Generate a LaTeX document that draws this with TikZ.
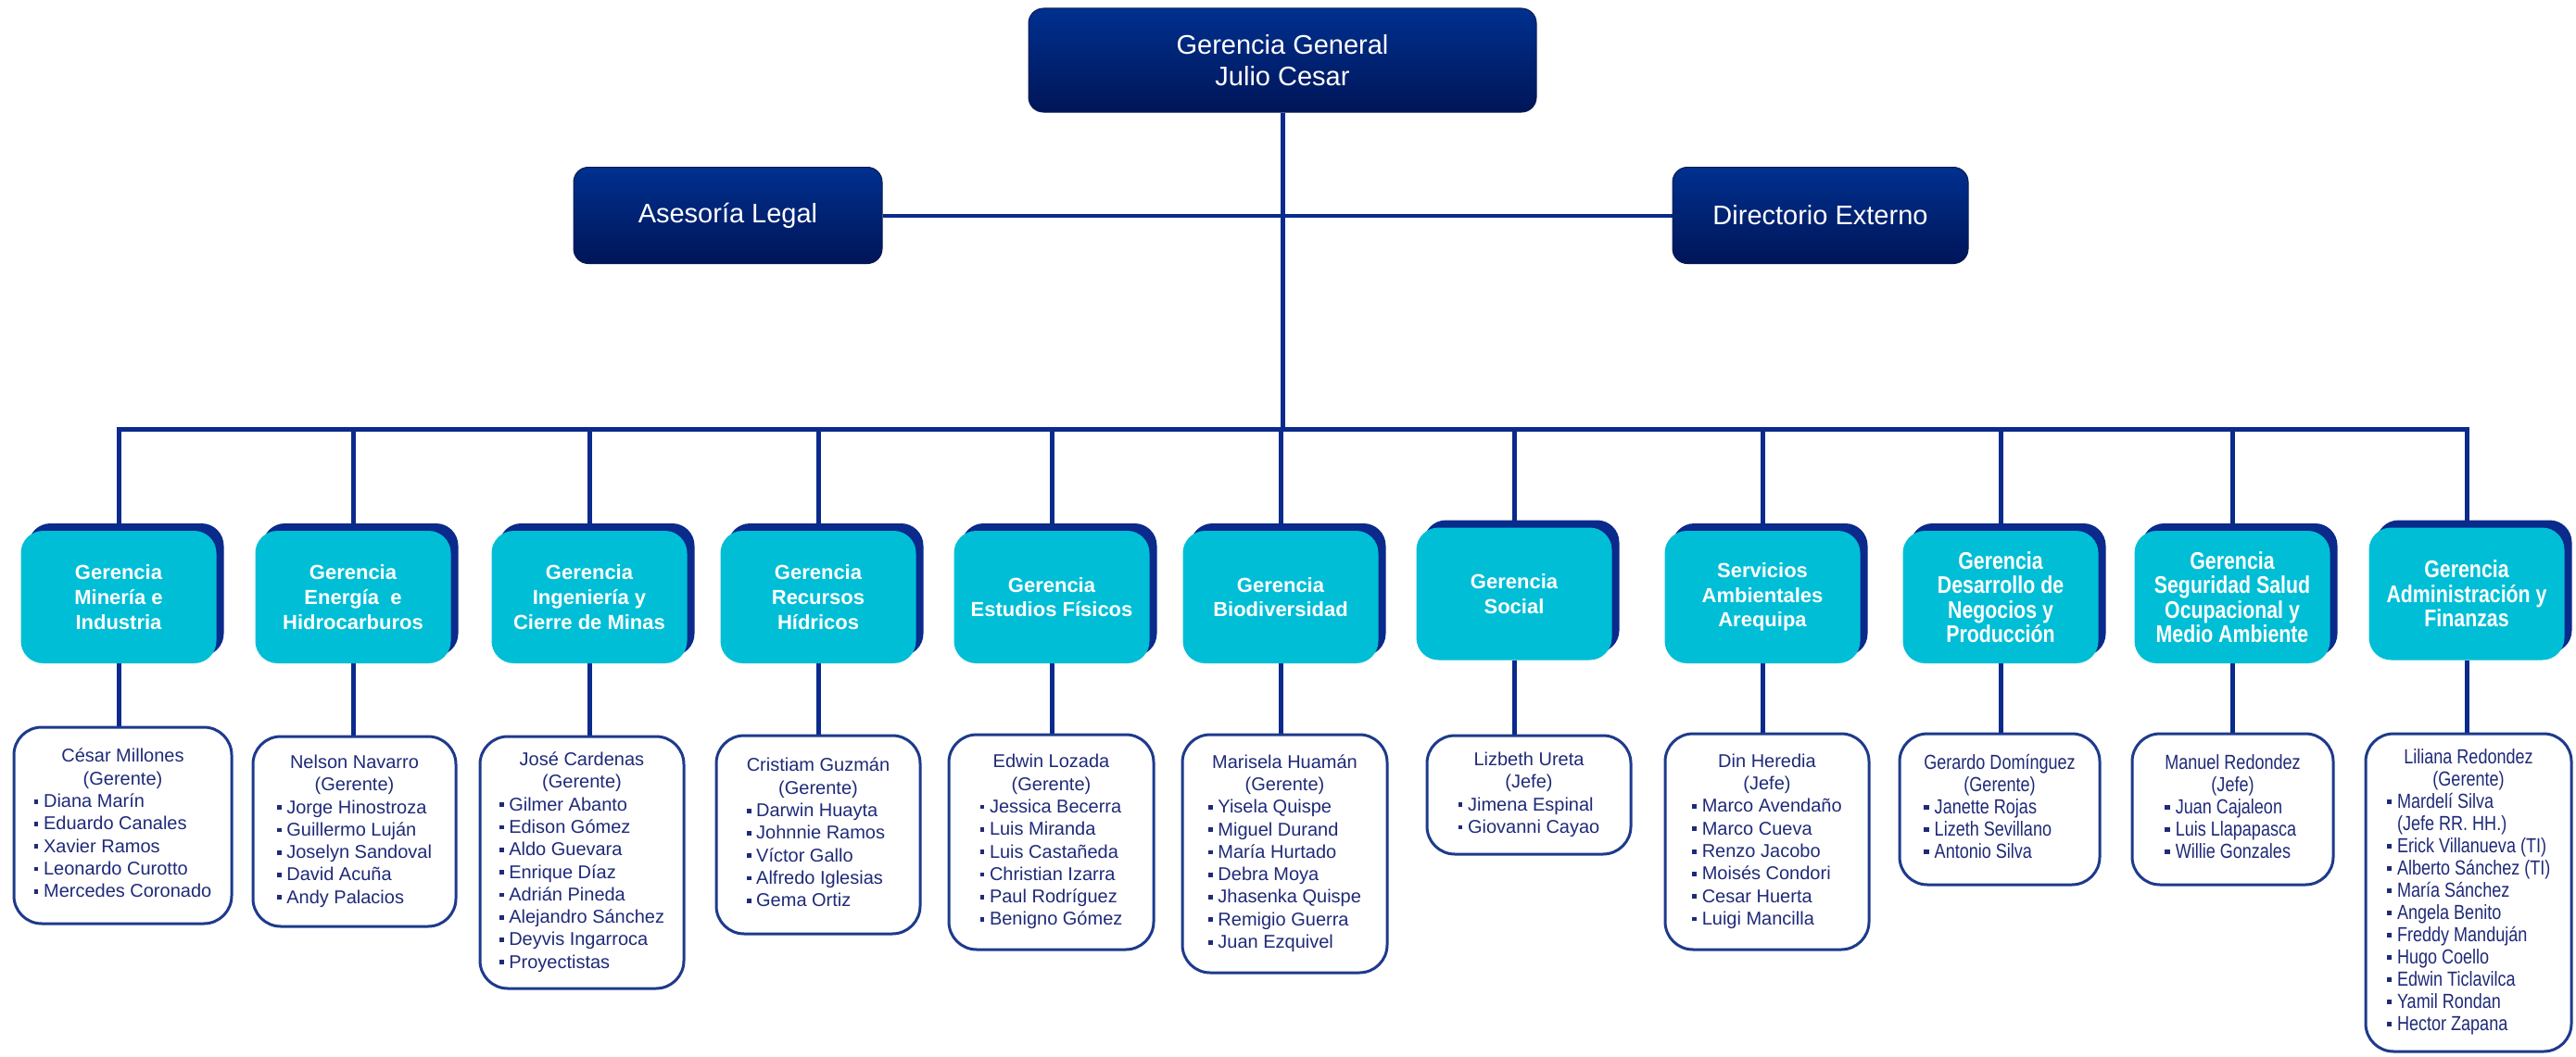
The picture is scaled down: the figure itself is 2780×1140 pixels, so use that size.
\documentclass[tikz,border=0pt]{standalone}
\usepackage{fontspec}
\setmainfont{Liberation Sans}
\newfontfamily\narrowfont[FakeStretch=0.82]{Liberation Sans}
\usetikzlibrary{shadows,backgrounds}
\definecolor{navy}{HTML}{0A2A8C}
\definecolor{cyanc}{HTML}{00BED6}
\definecolor{topA}{HTML}{00308F}
\definecolor{topB}{HTML}{001558}
\definecolor{topE}{HTML}{0A1A50}
\definecolor{pborder}{HTML}{1E3A8C}
\definecolor{ptext}{HTML}{1F2A78}
\newcommand\bl{{\color{ptext}\rule[0.2em]{0.24em}{0.24em}}\hspace{0.28em}}
\newcommand\ct[1]{\multicolumn{1}{@{}c@{}}{#1}}
\tikzset{
  conn/.style={draw=navy, line width=5pt},
  lconn/.style={draw=navy, line width=4pt},
  topbox/.style={rounded corners=16pt, top color=topA, bottom color=topB, draw=topE, line width=1pt,
    text=white, align=center, inner sep=0pt, font=\fontsize{29}{34}\selectfont},
  gbox/.style={rounded corners=24pt, fill=cyanc, draw=none,
    copy shadow={shadow xshift=8pt, shadow yshift=8pt, fill=navy, draw=none},
    text=white, minimum width=211pt, minimum height=143pt, align=center, inner sep=0pt,
    font=\bfseries\fontsize{22}{26.7}\selectfont},
  gboxn/.style={gbox, font=\narrowfont\bfseries\fontsize{26}{26.5}\selectfont},
  pbox/.style={rounded corners=30pt, draw=pborder, line width=3pt, fill=white, text=ptext,
    inner sep=0pt, font=\fontsize{20}{24.3}\selectfont},
  pboxn/.style={pbox, font=\narrowfont\fontsize{22}{24}\selectfont}
}
\begin{document}
\begin{tikzpicture}[x=1pt,y=-1pt]
\useasboundingbox (0,0) rectangle (2780,1140);

% top
\node[topbox, minimum width=548pt, minimum height=112pt] (gg) at (1384,65) {Gerencia General\\Julio Cesar};
\node[topbox, minimum width=333pt, minimum height=104pt] (al) at (785.5,232.5) {Asesoría Legal};
\node[topbox, minimum width=319pt, minimum height=104pt] (de) at (1964.5,232.5) {Directorio Externo};
\coordinate (bus) at (0,463);

% level 2
\node[gbox] (g1) at (128,644.5) {Gerencia\\Minería e\\Industria};
\node[gbox] (g2) at (381,644.5) {Gerencia\\Energía\ \ e\\Hidrocarburos};
\node[gbox] (g3) at (636,644.5) {Gerencia\\Ingeniería y\\Cierre de Minas};
\node[gbox] (g4) at (883,644.5) {Gerencia\\Recursos\\Hídricos};
\node[gbox] (g5) at (1135,644.5) {Gerencia\\Estudios Físicos};
\node[gbox] (g6) at (1382,644.5) {Gerencia\\Biodiversidad};
\node[gbox] (g7) at (1634,641) {Gerencia\\Social};
\node[gbox] (g8) at (1902,644.5) {Servicios\\Ambientales\\Arequipa};
\node[gboxn] (g9) at (2159,644.5) {Gerencia\\Desarrollo de\\Negocios y\\Producción};
\node[gboxn] (g10) at (2409,644.5) {Gerencia\\Seguridad Salud\\Ocupacional y\\Medio Ambiente};
\node[gboxn] (g11) at (2662,641) {Gerencia\\Administración y\\Finanzas};

% level 3
\node[pbox, minimum width=235pt, minimum height=212pt] (p1) at (132.5,891) {\begin{tabular}{@{}l@{}}
\ct{César Millones}\\ \ct{(Gerente)}\\ \bl Diana Marín\\ \bl Eduardo Canales\\ \bl Xavier Ramos\\ \bl Leonardo Curotto\\ \bl Mercedes Coronado\end{tabular}};
\node[pbox, minimum width=219pt, minimum height=205pt] (p2) at (382.5,897.5) {\begin{tabular}{@{}l@{}}
\ct{Nelson Navarro}\\ \ct{(Gerente)}\\ \bl Jorge Hinostroza\\ \bl Guillermo Luján\\ \bl Joselyn Sandoval\\ \bl David Acuña\\ \bl Andy Palacios\end{tabular}};
\node[pbox, minimum width=220pt, minimum height=272pt] (p3) at (628,931) {\begin{tabular}{@{}l@{}}
\ct{José Cardenas}\\ \ct{(Gerente)}\\ \bl Gilmer Abanto\\ \bl Edison Gómez\\ \bl Aldo Guevara\\ \bl Enrique Díaz\\ \bl Adrián Pineda\\ \bl Alejandro Sánchez\\ \bl Deyvis Ingarroca\\ \bl Proyectistas\end{tabular}};
\node[pbox, minimum width=220pt, minimum height=214pt] (p4) at (883,901) {\begin{tabular}{@{}l@{}}
\ct{Cristiam Guzmán}\\ \ct{(Gerente)}\\ \bl Darwin Huayta\\ \bl Johnnie Ramos\\ \bl Víctor Gallo\\ \bl Alfredo Iglesias\\ \bl Gema Ortiz\end{tabular}};
\node[pbox, minimum width=221pt, minimum height=232pt] (p5) at (1134.5,909) {\begin{tabular}{@{}l@{}}
\ct{Edwin Lozada}\\ \ct{(Gerente)}\\ \bl Jessica Becerra\\ \bl Luis Miranda\\ \bl Luis Castañeda\\ \bl Christian Izarra\\ \bl Paul Rodríguez\\ \bl Benigno Gómez\end{tabular}};
\node[pbox, minimum width=221pt, minimum height=257pt] (p6) at (1386.5,921.5) {\begin{tabular}{@{}l@{}}
\ct{Marisela Huamán}\\ \ct{(Gerente)}\\ \bl Yisela Quispe\\ \bl Miguel Durand\\ \bl María Hurtado\\ \bl Debra Moya\\ \bl Jhasenka Quispe\\ \bl Remigio Guerra\\ \bl Juan Ezquivel\end{tabular}};
\node[pbox, minimum width=220pt, minimum height=128pt] (p7) at (1650,858) {\begin{tabular}{@{}l@{}}
\ct{Lizbeth Ureta}\\ \ct{(Jefe)}\\ \bl Jimena Espinal\\ \bl Giovanni Cayao\end{tabular}};
\node[pbox, minimum width=220pt, minimum height=233pt] (p8) at (1907,908.5) {\begin{tabular}{@{}l@{}}
\ct{Din Heredia}\\ \ct{(Jefe)}\\ \bl Marco Avendaño\\ \bl Marco Cueva\\ \bl Renzo Jacobo\\ \bl Moisés Condori\\ \bl Cesar Huerta\\ \bl Luigi Mancilla\end{tabular}};
\node[pboxn, minimum width=216pt, minimum height=163pt] (p9) at (2158,873.5) {\begin{tabular}{@{}l@{}}
\ct{Gerardo Domínguez}\\ \ct{(Gerente)}\\ \bl Janette Rojas\\ \bl Lizeth Sevillano\\ \bl Antonio Silva\end{tabular}};
\node[pboxn, minimum width=217pt, minimum height=163pt] (p10) at (2409.5,873.5) {\begin{tabular}{@{}l@{}}
\ct{Manuel Redondez}\\ \ct{(Jefe)}\\ \bl Juan Cajaleon\\ \bl Luis Llapapasca\\ \bl Willie Gonzales\end{tabular}};
\node[pboxn, minimum width=222pt, minimum height=343pt] (p11) at (2664,963.5) {\begin{tabular}{@{}l@{}}
\ct{Liliana Redondez}\\ \ct{(Gerente)}\\ \bl Mardelí Silva\\ \hphantom{\bl}(Jefe RR. HH.)\\ \bl Erick Villanueva (TI)\\ \bl Alberto Sánchez (TI)\\ \bl María Sánchez\\ \bl Angela Benito\\ \bl Freddy Manduján\\ \bl Hugo Coello\\ \bl Edwin Ticlavilca\\ \bl Yamil Rondan\\ \bl Hector Zapana\end{tabular}};

\begin{scope}[on background layer]
\fill[white] (0,0) rectangle (2780,1140);
\draw[conn] (gg.south) -- (gg.south |- bus);
\draw[lconn] (al.east) -- (de.west);
\draw[conn] (g1.north) -- (g1.north |- bus) -- (g11.north |- bus) -- (g11.north);
\foreach \i in {2,...,10} {\draw[conn] (g\i.north) -- (g\i.north |- bus);}
\foreach \i in {1,...,11} {\draw[conn] (g\i.south) -- (g\i.south |- p\i.north);}
\end{scope}
\end{tikzpicture}
\end{document}
